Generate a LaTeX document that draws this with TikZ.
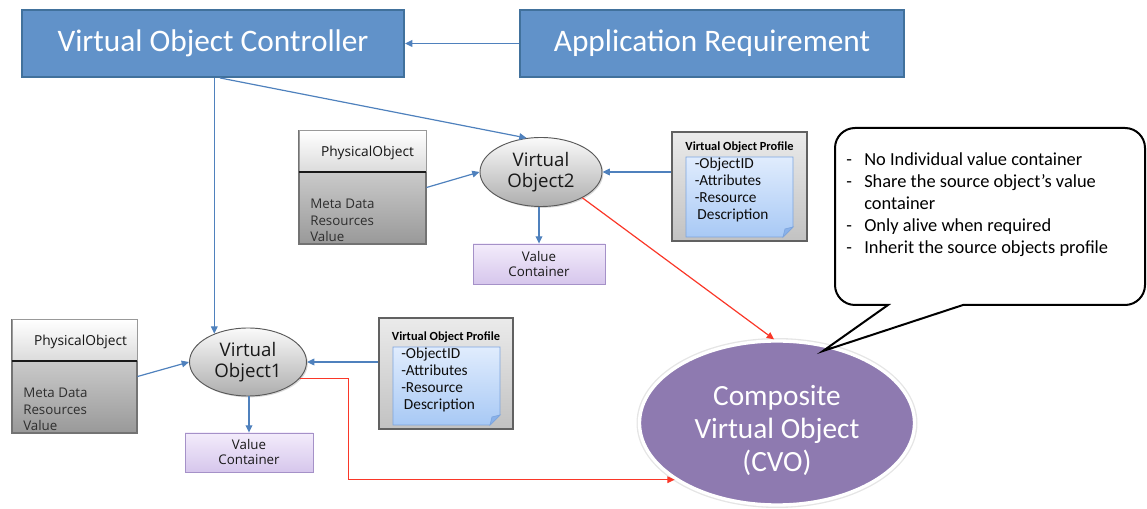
\documentclass[tikz,border=0pt]{standalone}
\usepackage{fontspec}
\setmainfont{Carlito}
\newfontfamily\gothic{Open Sans}
\usetikzlibrary{arrows.meta,shapes.geometric,shadows,calc}

\definecolor{ctrlfill}{RGB}{97,146,201}
\definecolor{ctrldraw}{RGB}{65,113,156}
\definecolor{linkblue}{RGB}{79,129,189}
\definecolor{linkred}{RGB}{250,55,40}
\definecolor{cvofill}{RGB}{142,122,176}
\definecolor{vcdraw}{RGB}{165,145,200}
\definecolor{vctop}{RGB}{243,236,251}
\definecolor{vcbot}{RGB}{214,198,236}
\definecolor{notetop}{RGB}{224,236,253}
\definecolor{notebot}{RGB}{168,201,245}
\definecolor{notedraw}{RGB}{125,165,222}
\definecolor{notefold}{RGB}{138,178,234}

\begin{document}
\begin{tikzpicture}[x=0.75pt,y=-0.75pt,
  softshadow/.style={drop shadow={shadow xshift=1pt, shadow yshift=-1pt, opacity=0.3}},
  ctrl/.style={rectangle, fill=ctrlfill, draw=ctrldraw, line width=1.4pt,
    minimum width=#1, minimum height=50.25pt, inner sep=0pt, text=white,
    font=\fontsize{23.5}{28}\selectfont},
  voell/.style={ellipse, draw=black!65, line width=0.7pt, top color=black!2,
    bottom color=black!32, inner sep=0pt, align=center, text=black!90,
    font=\gothic\fontsize{14}{15.5}\selectfont, softshadow},
  valbox/.style={rectangle, draw=vcdraw, line width=0.6pt, top color=vctop,
    bottom color=vcbot, inner sep=0pt, align=center, text=black!90,
    font=\gothic\fontsize{10}{11.25}\selectfont, softshadow},
  profframe/.style={rectangle, draw=black!62, line width=0.8pt, top color=black!8,
    bottom color=black!24, inner sep=0pt, softshadow},
  physframe/.style={rectangle, draw=black!55, line width=0.8pt, top color=black!10,
    bottom color=black!40, inner sep=0pt, softshadow},
  physhead/.style={rectangle, draw=black!40, line width=0.5pt, top color=white,
    bottom color=black!14, inner sep=0pt},
  physlabel/.style={inner sep=0pt, text=black!92, font=\gothic\fontsize{10.3}{12}\selectfont},
  physbody/.style={anchor=north west, inner sep=0pt, align=left, text=black!82,
    font=\gothic\fontsize{10}{12.4}\selectfont},
  proftitle/.style={inner sep=0pt, font=\bfseries\fontsize{9.3}{10}\selectfont},
  proftext/.style={anchor=north west, inner sep=0pt, align=left, text=black!95,
    font=\fontsize{11.5}{12.75}\selectfont},
  notepaper/.style={top color=notetop, bottom color=notebot, draw=notedraw, line width=0.6pt},
  notecorner/.style={fill=notefold, draw=notedraw, line width=0.5pt},
  link/.style={draw=linkblue, line width=0.9pt, -{Triangle[length=5.5pt,width=5pt]}},
  hot/.style={draw=linkred, line width=0.9pt, -{Triangle[length=5.5pt,width=5pt]}},
]
\useasboundingbox (0,0) rectangle (1147,509);

% controller and requirement
\node[ctrl=286.5pt] (voc) at (213,43.5) {Virtual Object Controller};
\node[ctrl=288pt] (app) at (712,43.5) {Application Requirement};

% ---------- upper group ----------
\node[physframe, minimum width=95.25pt, minimum height=84.75pt] (phys2) at (362.5,187.5) {};
\node[physhead, minimum width=95.25pt, minimum height=30.75pt, anchor=north] (ph2) at (phys2.north) {};
\draw[line width=2pt, black!90] (ph2.south west) -- (ph2.south east);
\node[physlabel] (ph2t) at ($(ph2.center)+(5,2)$) {PhysicalObject};
\node[physbody] (pb2) at (310,199) {Meta Data\\Resources\\Value};

\node[voell, minimum width=91.5pt, minimum height=51.75pt] (vo2) at (541,172) {Virtual\\Object2};
\node[valbox, minimum width=99pt, minimum height=30pt] (vc2) at (539,264) {Value\\Container};

\node[profframe, minimum width=101.25pt, minimum height=81.75pt] (vop2) at (739.5,186.5) {};
\node[proftitle] (vop2t) at ($(vop2.center)+(0,-39)$) {Virtual Object Profile};
\path[notepaper] ($(vop2.center)+(-53.5,-29.5)$) -- ++(107,0) -- ++(0,70) -- ++(-10,10) -- ++(-97,0) -- cycle;
\path[notecorner] ($(vop2.center)+(53.5,40.5)$) -- ++(-10,10) -- ++(2,-8) -- cycle;
\node[proftext] (vop2x) at ($(vop2.center)+(-45,-29)$) {-ObjectID\\-Attributes\\-Resource\\\hspace*{2pt}Description};

% ---------- lower group ----------
\node[physframe, minimum width=93.75pt, minimum height=84.75pt] (phys1) at (74.5,376.5) {};
\node[physhead, minimum width=93.75pt, minimum height=30.75pt, anchor=north] (ph1) at (phys1.north) {};
\draw[line width=2pt, black!90] (ph1.south west) -- (ph1.south east);
\node[physlabel] (ph1t) at ($(ph1.center)+(6,2)$) {PhysicalObject};
\node[physbody] (pb1) at (23,388) {Meta Data\\Resources\\Value};

\node[voell, minimum width=87.75pt, minimum height=51pt] (vo1) at (248,362) {Virtual\\Object1};
\node[valbox, minimum width=96pt, minimum height=29.25pt] (vc1) at (249,452.5) {Value\\Container};

\node[profframe, minimum width=100.5pt, minimum height=83.25pt] (vop1) at (446,373.5) {};
\node[proftitle] (vop1t) at ($(vop1.center)+(0,-36)$) {Virtual Object Profile};
\path[notepaper] ($(vop1.center)+(-53,-26.5)$) -- ++(107,0) -- ++(0,68) -- ++(-10,10) -- ++(-97,0) -- cycle;
\path[notecorner] ($(vop1.center)+(54,41.5)$) -- ++(-10,10) -- ++(2,-8) -- cycle;
\node[proftext] (vop1x) at ($(vop1.center)+(-45,-26)$) {-ObjectID\\-Attributes\\-Resource\\\hspace*{2pt}Description};

% ---------- composite object ----------
\node[ellipse, fill=cvofill, draw=white, line width=2.5pt,
  preaction={draw=black!10, line width=4.5pt},
  minimum width=206.25pt, minimum height=123pt, inner sep=0pt] (cvo) at (777,423) {};
\node[align=center, text=white, inner sep=0pt, font=\fontsize{22}{24.75}\selectfont]
  (cvot) at (777,430) {Composite\\Virtual Object\\(CVO)};

% ---------- connectors ----------
\draw[link] (app) -- (voc);
\draw[link] (vo1.140 |- voc.south) -- (vo1.140);
\draw[link] ($(voc.south west)!0.518!(voc.south east)$) -- (vo2.113);
\draw[link] (phys2.east) -- (vo2.west);
\draw[link] (vop2.west |- vo2.east) -- (vo2.east);
\draw[link] (vo2.south -| vc2.north) -- (vc2.north);
\draw[link] (phys1.east) -- (vo1.west);
\draw[link] (vop1.west |- vo1.east) -- (vo1.east);
\draw[link] (vo1.south -| vc1.north) -- (vc1.north);
\draw[hot] (vo2.-32) -- (cvo.92);
\draw[hot] (vo1.-18) -- ++(49,0) |- (cvo.209);

% ---------- speech bubble ----------
\draw[line width=1.5pt, fill=white, line join=miter]
  (888,305) -- (855,305) arc[start angle=90, end angle=180, radius=20]
  -- (835,148) arc[start angle=180, end angle=270, radius=20]
  -- (1125,128) arc[start angle=270, end angle=360, radius=20]
  -- (1145,285) arc[start angle=0, end angle=90, radius=20]
  -- (963,305) -- (823,351) -- cycle;
\node[anchor=north west, inner sep=0pt, align=left, text=black,
  font=\fontsize{13.8}{16.5}\selectfont] (bubble) at (846,152)
  {\makebox[13.5pt][l]{-}No Individual value container\\
   \makebox[13.5pt][l]{-}Share the source object’s value\\
   \hspace*{13.5pt}container\\
   \makebox[13.5pt][l]{-}Only alive when required\\
   \makebox[13.5pt][l]{-}Inherit the source objects profile};
\end{tikzpicture}
\end{document}
